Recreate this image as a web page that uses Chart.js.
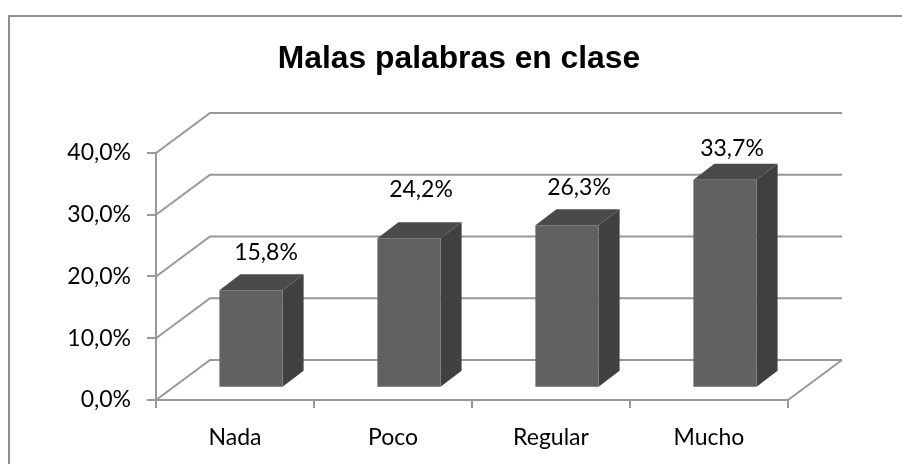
<!DOCTYPE html>
<html lang="es">

<head>
    <meta charset="UTF-8">
    <title>Malas palabras en clase</title>
    <script src="https://cdn.jsdelivr.net/npm/chart.js"></script>
    <style>
        html, body { margin: 0; padding: 0; background: #fff; overflow: hidden; }
        #marco { position: absolute; left: 8px; top: 15px; right: 0; bottom: 0; border-left: 2px solid #8f8f8f; border-top: 2px solid #8f8f8f; }
        canvas { position: absolute; left: 0; top: 0; }
    </style>
</head>

<body>
    <div id="marco"></div>
    <canvas id="grafico" width="902" height="464"></canvas>

    <script>
        const categorias = ['Nada', 'Poco', 'Regular', 'Mucho'];
        const valores = [15.8, 24.2, 26.3, 33.7];
        const titulo = 'Malas palabras en clase';

        const formato = v => v.toFixed(1).replace('.', ',') + '%';

        const colorGrid = '#989898';
        const fondo = { x: 54, y: 40 };     // profundidad de las paredes
        const prof = { x: 21, y: 16 };      // profundidad de cada barra
        const corrida = { x: 16, y: 12.2 }; // las barras van a media profundidad
        const ajusteEtiq = [{ x: 15, y: -38 }, { x: 12, y: -49 }, { x: 12, y: -38 }, { x: 7, y: -31 }];

        // Paredes y piso en falso 3D, a partir de las escalas del grafico
        const paredes = {
            id: 'paredes',
            beforeDatasetsDraw(chart) {
                const { ctx, scales: { x, y } } = chart;
                const izq = x.left, der = x.right, base = y.getPixelForValue(0);
                ctx.save();
                ctx.strokeStyle = colorGrid;
                ctx.lineWidth = 2;
                y.ticks.forEach(t => {
                    const py = y.getPixelForValue(t.value);
                    ctx.beginPath();
                    ctx.moveTo(izq, py);
                    ctx.lineTo(izq + fondo.x, py - fondo.y);
                    ctx.lineTo(der + fondo.x, py - fondo.y);
                    ctx.stroke();
                });
                ctx.beginPath();
                ctx.moveTo(der, base);
                ctx.lineTo(der + fondo.x, base - fondo.y);
                ctx.stroke();

                // caras superior y lateral de las barras
                chart.getDatasetMeta(0).data.forEach(b => {
                    const l = b.x - b.width / 2 + corrida.x, r = b.x + b.width / 2 + corrida.x;
                    const t = b.y - corrida.y, bo = b.base - corrida.y;
                    ctx.fillStyle = '#4a4a4a';
                    ctx.beginPath();
                    ctx.moveTo(l, t);
                    ctx.lineTo(l + prof.x, t - prof.y);
                    ctx.lineTo(r + prof.x, t - prof.y);
                    ctx.lineTo(r, t);
                    ctx.closePath();
                    ctx.fill();
                    ctx.fillStyle = '#404040';
                    ctx.beginPath();
                    ctx.moveTo(r, t);
                    ctx.lineTo(r + prof.x, t - prof.y);
                    ctx.lineTo(r + prof.x, bo - prof.y);
                    ctx.lineTo(r, bo);
                    ctx.closePath();
                    ctx.fill();
                });
                ctx.restore();
            },
            beforeDatasetDraw(chart) {
                chart.ctx.save();
                chart.ctx.translate(corrida.x, -corrida.y);
            },
            afterDatasetDraw(chart) {
                chart.ctx.restore();
            },
            afterDatasetsDraw(chart) {
                const { ctx } = chart;
                ctx.save();
                ctx.font = '23px Lato';
                ctx.fillStyle = '#000';
                ctx.textAlign = 'center';
                ctx.textBaseline = 'middle';
                chart.getDatasetMeta(0).data.forEach((b, i) => {
                    ctx.fillText(formato(valores[i]), b.x + corrida.x + ajusteEtiq[i].x, b.y - corrida.y + ajusteEtiq[i].y);
                });
                ctx.restore();
            }
        };

        new Chart(document.getElementById('grafico'), {
            type: 'bar',
            data: {
                labels: categorias,
                datasets: [{
                    data: valores,
                    backgroundColor: '#616161',
                    barPercentage: 0.4,
                    categoryPercentage: 1
                }]
            },
            plugins: [paredes],
            options: {
                responsive: false,
                animation: false,
                layout: { padding: { left: 16, right: 0, top: 0, bottom: 0 } },
                plugins: {
                    legend: { display: false },
                    tooltip: { enabled: false },
                    title: {
                        display: true,
                        text: titulo,
                        color: '#000',
                        font: { family: 'Liberation Sans', size: 31.8, weight: 'bold', lineHeight: 1.2 },
                        padding: { top: 39.8, bottom: 75 }
                    }
                },
                scales: {
                    x: {
                        afterFit(s) { s.height = 64; },
                        border: { color: colorGrid, width: 2 },
                        grid: { color: colorGrid, lineWidth: 2, drawOnChartArea: false, tickLength: 8 },
                        ticks: { color: '#000', font: { family: 'Lato', size: 23 }, padding: 16, maxRotation: 0 }
                    },
                    y: {
                        min: 0,
                        max: 40,
                        afterFit(s) { s.width = 140; },
                        border: { color: colorGrid, width: 2 },
                        grid: { color: colorGrid, lineWidth: 2, drawOnChartArea: false, tickLength: 9 },
                        ticks: { stepSize: 10, color: '#000', font: { family: 'Lato', size: 23 }, padding: 16, callback: v => formato(v) }
                    },
                    // reserva el margen derecho para centrar el titulo
                    margen: {
                        position: 'right',
                        afterFit(s) { s.width = 114; },
                        grid: { display: false },
                        border: { display: false },
                        ticks: { display: false }
                    }
                }
            }
        });
    </script>
</body>
</html>
